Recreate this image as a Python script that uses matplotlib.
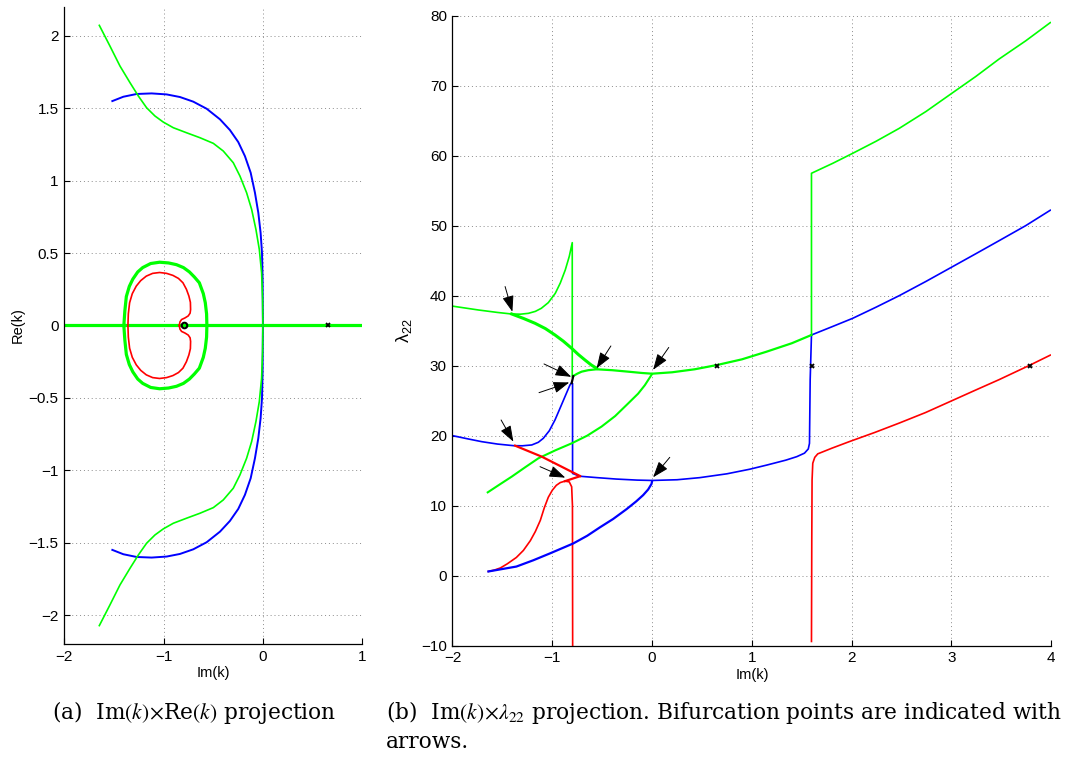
"""
Projecoes do diagrama de bifurcacao.
  (a) Im(k) x Re(k)
  (b) Im(k) x lambda_22, com setas nos pontos de bifurcacao
Saida: out.png
"""

import matplotlib
matplotlib.use("Agg")
import matplotlib.pyplot as plt

plt.rcParams["font.family"] = ["Liberation Sans", "DejaVu Sans"]
plt.rcParams["mathtext.fontset"] = "stix"
plt.rcParams["axes.unicode_minus"] = True

VERDE = "#00ff00"
AZUL = "#0000ff"
VERM = "#ff0000"

# ---------------- painel (a): Im(k) x Re(k) ----------------
a_verde_sup_im = [-1.647, -1.540, -1.439, -1.338, -1.254, -1.171, -1.087, -1.003, -0.902, -0.768, -0.634,
                  -0.499, -0.399, -0.298, -0.231, -0.164, -0.113, -0.070, -0.036, -0.013, -0.003, 0.0]
a_verde_sup_re = [2.073, 1.930, 1.792, 1.677, 1.585, 1.504, 1.447, 1.405, 1.366, 1.331, 1.297,
                  1.258, 1.205, 1.124, 1.032, 0.917, 0.801, 0.663, 0.525, 0.364, 0.179, 0.0]
a_verde_inf_im = [-1.647, -1.540, -1.439, -1.338, -1.254, -1.171, -1.087, -1.003, -0.902, -0.768, -0.634,
                  -0.499, -0.399, -0.298, -0.231, -0.164, -0.113, -0.070, -0.036, -0.013, -0.003, 0.0]
a_verde_inf_re = [-2.073, -1.930, -1.792, -1.677, -1.585, -1.504, -1.447, -1.405, -1.366, -1.331, -1.297,
                  -1.258, -1.205, -1.124, -1.032, -0.917, -0.801, -0.663, -0.525, -0.364, -0.179, 0.0]

a_azul_sup_im = [-1.516, -1.405, -1.271, -1.120, -0.969, -0.835, -0.701, -0.566, -0.432, -0.332,
                 -0.248, -0.181, -0.123, -0.080, -0.046, -0.023, -0.009, -0.003, 0.0]
a_azul_sup_re = [1.550, 1.580, 1.599, 1.603, 1.596, 1.578, 1.546, 1.497, 1.424, 1.350,
                 1.267, 1.170, 1.055, 0.917, 0.778, 0.640, 0.502, 0.318, 0.0]
a_azul_inf_im = [-1.516, -1.405, -1.271, -1.120, -0.969, -0.835, -0.701, -0.566, -0.432, -0.332,
                 -0.248, -0.181, -0.123, -0.080, -0.046, -0.023, -0.009, -0.003, 0.0]
a_azul_inf_re = [-1.550, -1.580, -1.599, -1.603, -1.596, -1.578, -1.546, -1.497, -1.424, -1.350,
                 -1.267, -1.170, -1.055, -0.917, -0.778, -0.640, -0.502, -0.318, 0.0]

# laco verde (fechado)
a_laco_im = [-1.40, -1.39, -1.375, -1.345, -1.31, -1.26, -1.21, -1.13, -1.04, -0.95, -0.87, -0.80,
             -0.74, -0.69, -0.64, -0.60, -0.58, -0.567, -0.564,
             -0.567, -0.58, -0.60, -0.64, -0.69, -0.74, -0.80, -0.87, -0.95, -1.04, -1.13,
             -1.21, -1.26, -1.31, -1.345, -1.375, -1.39, -1.40]
a_laco_re = [0.0, 0.10, 0.20, 0.27, 0.32, 0.37, 0.40, 0.428, 0.437, 0.432, 0.42, 0.40,
             0.37, 0.335, 0.295, 0.22, 0.157, 0.08, 0.0,
             -0.08, -0.157, -0.22, -0.295, -0.335, -0.37, -0.40, -0.42, -0.432, -0.437, -0.428,
             -0.40, -0.37, -0.32, -0.27, -0.20, -0.10, 0.0]

# curva vermelha em forma de rim
a_rim_im = [-0.842, -0.835, -0.819, -0.785, -0.752, -0.733, -0.728, -0.730, -0.745, -0.770, -0.805,
            -0.850, -0.906, -0.970, -1.04, -1.110, -1.174, -1.230, -1.275, -1.315, -1.342, -1.355, -1.359,
            -1.355, -1.342, -1.315, -1.275, -1.230, -1.174, -1.110, -1.04, -0.970, -0.906, -0.850,
            -0.805, -0.770, -0.745, -0.730, -0.728, -0.733, -0.752, -0.785, -0.819, -0.835, -0.842]
a_rim_re = [0.0, 0.025, 0.041, 0.052, 0.066, 0.085, 0.11, 0.16, 0.203, 0.250, 0.295,
            0.325, 0.346, 0.360, 0.366, 0.360, 0.341, 0.310, 0.272, 0.220, 0.157, 0.080, 0.0,
            -0.080, -0.157, -0.220, -0.272, -0.310, -0.341, -0.360, -0.366, -0.360, -0.346, -0.325,
            -0.295, -0.250, -0.203, -0.16, -0.11, -0.085, -0.066, -0.052, -0.041, -0.025, 0.0]

a_eixo_im = [-2.0, 1.0]
a_eixo_re = [0.0, 0.0]
a_circ = (-0.795, 0.0)
a_xis = (0.658, 0.0)

# ---------------- painel (b): Im(k) x lambda_22 ----------------
b_g1_im = [-2.0, -1.74, -1.55, -1.41, -1.32, -1.24, -1.17, -1.11, -1.04, -0.97, -0.92, -0.87, -0.83, -0.80, -0.80]
b_g1_l = [38.5, 37.95, 37.6, 37.38, 37.35, 37.47, 37.75, 38.19, 39.0, 40.33, 41.8, 43.67, 45.6, 47.57, 28.4]

b_g2_im = [-1.407, -1.29, -1.173, -1.07, -0.973, -0.89, -0.806, -0.74, -0.673, -0.61, -0.556]
b_g2_l = [37.38, 36.75, 36.05, 35.3, 34.38, 33.5, 32.48, 31.6, 30.81, 30.1, 29.62]

b_g3_im = [-0.79, -0.75, -0.706, -0.64, -0.556, -0.40, -0.24, -0.10, 0.0, 0.2, 0.427, 0.654, 0.9, 1.144, 1.4, 1.597]
b_g3_l = [28.52, 28.85, 29.14, 29.35, 29.48, 29.35, 29.14, 28.95, 28.85, 29.05, 29.48, 30.1, 30.9, 31.98, 33.2, 34.38]

b_g4_im = [1.597, 1.597, 1.81, 2.01, 2.244, 2.477, 2.744, 2.993, 3.243, 3.477, 3.744, 3.99]
b_g4_l = [34.38, 57.48, 58.9, 60.33, 62.05, 63.9, 66.3, 68.8, 71.3, 73.8, 76.4, 79.0]

b_g5_im = [-1.647, -1.53, -1.407, -1.27, -1.14, -0.97, -0.806, -0.65, -0.506, -0.37, -0.24, -0.14, -0.073, 0.0]
b_g5_l = [11.9, 13.0, 14.14, 15.5, 16.76, 17.9, 18.9, 20.0, 21.3, 22.8, 24.6, 26.0, 27.2, 28.81]

b_a1_im = [-2.0, -1.85, -1.707, -1.55, -1.39, -1.30, -1.206, -1.14, -1.09, -1.03, -0.973, -0.92, -0.873, -0.823, -0.806]
b_a1_l = [20.0, 19.55, 19.14, 18.8, 18.57, 18.55, 18.67, 19.05, 19.62, 20.7, 22.24, 24.0, 25.57, 27.24, 27.57]

b_a2_im = [-0.797, -0.797, -0.723, -0.55, -0.36, -0.15, 0.0, 0.25, 0.477, 0.75, 0.977, 1.15, 1.34, 1.45, 1.527, 1.565, 1.577, 1.584, 1.597]
b_a2_l = [27.4, 14.6, 14.2, 14.0, 13.8, 13.65, 13.6, 13.7, 14.0, 14.55, 15.2, 15.8, 16.5, 17.0, 17.5, 18.1, 18.9, 28.0, 34.38]

b_a3_im = [1.597, 1.81, 2.01, 2.244, 2.477, 2.744, 2.993, 3.243, 3.477, 3.744, 3.99]
b_a3_l = [34.38, 35.6, 36.76, 38.35, 40.0, 42.03, 44.0, 45.98, 47.85, 50.0, 52.2]

b_a4_im = [-1.64, -1.5, -1.36, -1.19, -1.02, -0.79, -0.65, -0.523, -0.39, -0.256, -0.16, -0.09, -0.04, -0.006, 0.0]
b_a4_l = [0.6, 0.95, 1.3, 2.2, 3.2, 4.6, 5.7, 6.9, 8.1, 9.5, 10.6, 11.5, 12.3, 13.1, 13.5]

b_v1_im = [-1.373, -1.106, -0.723]
b_v1_l = [18.57, 17.0, 14.24]

b_v2_im = [-1.64, -1.58, -1.52, -1.45, -1.36, -1.29, -1.22, -1.17, -1.12, -1.08, -1.04, -1.0, -0.96, -0.92,
           -0.873, -0.83, -0.806, -0.798, -0.796]
b_v2_l = [0.6, 0.8, 1.1, 1.7, 2.6, 3.6, 5.0, 6.3, 7.9, 9.7, 11.2, 12.2, 12.9, 13.3,
          13.5, 13.4, 12.7, 10.0, -10.0]

b_v3_im = [-0.873, -0.723]
b_v3_l = [13.5, 14.2]

b_v4_im = [1.597, 1.600, 1.603, 1.61, 1.63, 1.66, 1.80, 1.977, 2.23, 2.477, 2.74, 2.99, 3.24, 3.477, 3.79, 3.99]
b_v4_l = [-9.4, 5.0, 13.67, 16.06, 16.9, 17.4, 18.2, 19.15, 20.45, 21.8, 23.3, 24.9, 26.5, 28.0, 30.1, 31.5]

b_preto_im = [-0.806, -0.79]
b_preto_l = [27.5, 28.5]

b_xis_im = [0.654, 1.6, 3.79]
b_xis_l = [30.0, 30.0, 30.0]

# setas: (ponta, cauda)
b_setas = [
    ((-1.40, 37.7), (-1.473, 41.3)),
    ((-0.556, 29.62), (-0.413, 32.81)),
    ((0.01, 29.4), (0.167, 32.6)),
    ((-0.81, 28.4), (-1.083, 30.24)),
    ((-0.83, 27.6), (-1.133, 26.14)),
    ((-1.39, 19.14), (-1.513, 22.24)),
    ((-0.87, 14.0), (-1.123, 15.57)),
    ((0.01, 14.05), (0.177, 16.9)),
]


def estilo(ax):
    for s in ("top", "right"):
        ax.spines[s].set_visible(False)
    for s in ("left", "bottom"):
        ax.spines[s].set_linewidth(0.9)
    ax.tick_params(direction="in", length=4, width=0.8, labelsize=11,
                   top=False, right=False, pad=4)
    ax.grid(True, color="#8c8c8c", linestyle=(0, (1, 3)), linewidth=0.7)
    ax.set_axisbelow(True)


def painel_a(ax):
    lw = 1.2
    ax.plot(a_eixo_im, a_eixo_re, color=VERDE, lw=2.3)
    ax.plot(a_rim_im, a_rim_re, color=VERM, lw=lw)
    ax.plot(a_laco_im, a_laco_re, color=VERDE, lw=2.3)
    ax.plot(a_azul_sup_im, a_azul_sup_re, color=AZUL, lw=lw + 0.2)
    ax.plot(a_azul_inf_im, a_azul_inf_re, color=AZUL, lw=lw + 0.2)
    ax.plot(a_verde_sup_im, a_verde_sup_re, color=VERDE, lw=lw)
    ax.plot(a_verde_inf_im, a_verde_inf_re, color=VERDE, lw=lw)
    ax.plot(*a_circ, "o", mfc="none", mec="k", ms=4, mew=1.5)
    ax.plot(*a_xis, "x", color="k", ms=3.5, mew=1.3)
    ax.set_xlim(-2, 1)
    ax.set_ylim(-2.2, 2.2)
    ax.set_xticks([-2, -1, 0, 1])
    ax.set_yticks([-2, -1.5, -1, -0.5, 0, 0.5, 1, 1.5, 2])
    ax.set_yticklabels(["\u22122", "\u22121.5", "\u22121", "\u22120.5", "0", "0.5", "1", "1.5", "2"])
    ax.set_xlabel("Im(k)", fontsize=10.5, labelpad=2)
    ax.set_ylabel("Re(k)", fontsize=10.5, labelpad=3)
    estilo(ax)


def painel_b(ax):
    lw = 1.2
    ax.plot(b_v2_im, b_v2_l, color=VERM, lw=lw)
    ax.plot(b_v4_im, b_v4_l, color=VERM, lw=lw)
    ax.plot(b_a4_im, b_a4_l, color=AZUL, lw=1.6)
    ax.plot(b_a1_im, b_a1_l, color=AZUL, lw=lw)
    ax.plot(b_a2_im, b_a2_l, color=AZUL, lw=lw)
    ax.plot(b_a3_im, b_a3_l, color=AZUL, lw=lw)
    ax.plot(b_g5_im, b_g5_l, color=VERDE, lw=1.5)
    ax.plot(b_g1_im, b_g1_l, color=VERDE, lw=lw)
    ax.plot(b_g2_im, b_g2_l, color=VERDE, lw=2.2)
    ax.plot(b_g3_im, b_g3_l, color=VERDE, lw=1.6)
    ax.plot(b_g4_im, b_g4_l, color=VERDE, lw=lw)
    ax.plot(b_v1_im, b_v1_l, color=VERM, lw=1.6)
    ax.plot(b_v3_im, b_v3_l, color=VERM, lw=1.6)
    ax.plot(b_preto_im, b_preto_l, color="k", lw=1.6)
    ax.plot(b_xis_im, b_xis_l, "x", color="k", ms=3.5, mew=1.3, ls="none")
    for ponta, cauda in b_setas:
        ax.annotate("", xy=ponta, xytext=cauda,
                    arrowprops=dict(arrowstyle="-|>,head_length=0.7,head_width=0.25",
                                    color="k", lw=0.7, mutation_scale=14,
                                    shrinkA=0, shrinkB=0))
    ax.set_xlim(-2, 4)
    ax.set_ylim(-10, 80)
    ax.set_xticks(range(-2, 5))
    ax.set_yticks(range(-10, 81, 10))
    ax.set_xlabel("Im(k)", fontsize=10.5, labelpad=2)
    ax.set_ylabel(r"$\mathregular{\lambda_{22}}$", fontsize=13, labelpad=5)
    estilo(ax)


def main():
    fig = plt.figure(figsize=(10.71, 7.58), dpi=100)
    ax_a = fig.add_axes([0.060, 0.1504, 0.2782, 0.8404])
    ax_b = fig.add_axes([0.4225, 0.1482, 0.5591, 0.8312])
    painel_a(ax_a)
    painel_b(ax_b)

    cap = dict(fontsize=15.6, family=["DejaVu Serif"], va="center")
    fig.text(0.049, 1 - 713 / 758, r"(a)  Im$(k)\!\times\!$Re$(k)$ projection", **cap)
    fig.text(0.360, 1 - 713 / 758,
             r"(b)  Im$(k)\!\times\!\lambda_{22}$ projection. Bifurcation points are indicated with", **cap)
    fig.text(0.360, 1 - 742 / 758, "arrows.", **cap)

    fig.savefig("out.png", dpi=100)
    plt.close(fig)


if __name__ == "__main__":
    main()
